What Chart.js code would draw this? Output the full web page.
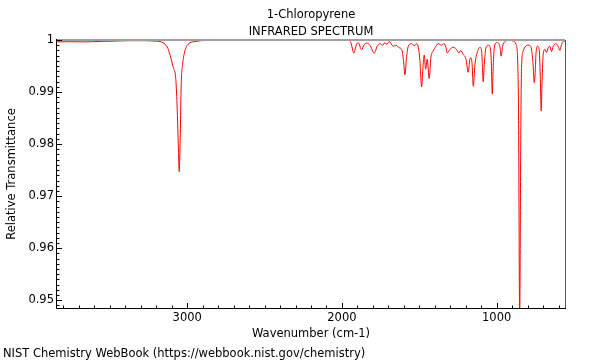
<!DOCTYPE html>
<html>
<head>
<meta charset="utf-8">
<title>1-Chloropyrene IR spectrum</title>
<script src="https://cdn.jsdelivr.net/npm/chart.js@4.4.0/dist/chart.umd.min.js"></script>
<style>
  html, body { margin: 0; padding: 0; background: #fff; }
  #wrap { width: 600px; height: 360px; }
</style>
</head>
<body>
<div id="wrap"><canvas id="irChart" width="600" height="360"></canvas></div>
<script>
// spectrum (cm-1, relative transmittance)
const wavenumbers = [
	3842, 3758, 3661, 3564, 3467, 3370, 3273, 3209, 3176, 3157, 3144, 3125, 3112, 3090, 3075, 3067,
	3058, 3052, 3045, 3039, 3030, 3015, 2994, 2950, 2885, 2594, 2271, 1954,
	1942, 1923, 1910, 1895, 1873, 1858, 1840, 1819, 1791, 1772, 1754, 1737, 1722, 1711, 1694, 1668,
	1651, 1630, 1614, 1602, 1593, 1583, 1571, 1550, 1538, 1528, 1517, 1506, 1496, 1485, 1475, 1468,
	1459, 1449, 1436, 1425, 1410, 1392, 1378, 1356, 1339, 1328, 1319, 1302, 1281, 1259, 1244, 1233,
	1216, 1198, 1184, 1173, 1166, 1158, 1151, 1140, 1129, 1108, 1097, 1092, 1087, 1079, 1069, 1054,
	1043, 1035, 1028, 1022, 1015, 1000, 985, 977, 971, 961, 946, 919, 893, 875, 864, 858,
	851, 844, 839, 828, 813, 796, 780, 770, 762, 757, 750, 746, 735, 725, 718, 712,
	706, 699, 688, 677, 667, 656, 645, 634, 617, 602, 591, 580, 565, 556
];
const transmittance = [
	0.99964, 0.99967, 0.99964, 0.99973, 0.99979, 0.99987, 0.99987, 0.9998, 0.9997, 0.9995, 0.9992, 0.9984, 0.9972, 0.9947, 0.9928, 0.9884,
	0.9800, 0.9747, 0.9819, 0.9915, 0.9953, 0.9979, 0.9992, 0.9997, 0.9999, 0.99997, 0.99997, 0.99997,
	0.9995, 0.9975, 0.9988, 0.9995, 0.9981, 0.9990, 0.9994, 0.9990, 0.9975, 0.9988, 0.9993, 0.9990, 0.9995, 0.9992, 0.9997, 0.9988,
	0.9990, 0.9985, 0.9982, 0.9961, 0.9933, 0.9965, 0.9988, 0.9993, 0.9990, 0.9990, 0.9993, 0.9986, 0.9961, 0.9910, 0.9953, 0.9971,
	0.9944, 0.9963, 0.9926, 0.9966, 0.9979, 0.9988, 0.9993, 0.9990, 0.9993, 0.9986, 0.9975, 0.9982, 0.9986, 0.9982, 0.9975, 0.9980,
	0.9972, 0.9963, 0.9938, 0.9963, 0.9966, 0.9951, 0.9911, 0.9953, 0.9972, 0.9986, 0.9979, 0.9951, 0.9920, 0.9957, 0.9985, 0.9990,
	0.9988, 0.9961, 0.9896, 0.9951, 0.9985, 0.9995, 0.9993, 0.9984, 0.9969, 0.9988, 0.9997, 1.0000, 0.9998, 0.9992, 0.9960, 0.9846,
	0.9460, 0.9807, 0.9947, 0.9979, 0.9988, 0.9990, 0.9988, 0.9972, 0.9942, 0.9918, 0.9942, 0.9972, 0.9988, 0.9982, 0.9932, 0.9864,
	0.9923, 0.9972, 0.9982, 0.9976, 0.9985, 0.9988, 0.9978, 0.9988, 0.9993, 0.9988, 0.9980, 0.9992, 0.9998, 0.9998
];

const xTickValues = [3000, 2000, 1000];
const yTickValues = [0.95, 0.96, 0.97, 0.98, 0.99, 1];
const yTickLabels = ['0.95', '0.96', '0.97', '0.98', '0.99', '1'];

const chartTitle = ['1-Chloropyrene', 'INFRARED SPECTRUM'];
const xTitle = 'Wavenumber (cm-1)';
const yTitle = 'Relative Transmittance';
const sourceNote = 'NIST Chemistry WebBook (https://webbook.nist.gov/chemistry)';

document.addEventListener('DOMContentLoaded', function() {

	Chart.defaults.font.family = '"DejaVu Sans", sans-serif';
	Chart.defaults.font.size = 11.5;
	Chart.defaults.color = '#000';

	const FONT = '11.5px "DejaVu Sans", sans-serif';

	// frame, inside tick marks and the texts around the plot
	const framePlugin = {
		id: 'frame',
		afterDraw(chart) {
			const ctx = chart.ctx;
			const a = chart.chartArea;
			const xs = chart.scales.x;
			const ys = chart.scales.y;

			ctx.save();
			ctx.lineCap = 'butt';

			// top and right border
			ctx.strokeStyle = '#a0a0a0';
			ctx.lineWidth = 2;
			ctx.beginPath();
			ctx.moveTo(a.left, a.top);
			ctx.lineTo(a.right, a.top);
			ctx.stroke();
			ctx.strokeStyle = '#555';
			ctx.lineWidth = 1;
			ctx.beginPath();
			ctx.moveTo(a.right + 0.5, a.top);
			ctx.lineTo(a.right + 0.5, a.bottom);
			ctx.stroke();

			// left and bottom axes
			ctx.strokeStyle = '#000';
			ctx.beginPath();
			ctx.moveTo(a.left - 0.5, a.top - 1);
			ctx.lineTo(a.left - 0.5, a.bottom + 0.5);
			ctx.lineTo(a.right + 1, a.bottom + 0.5);
			ctx.stroke();

			// x ticks, every 100 minor, every 1000 major
			ctx.beginPath();
			for (let v = 600; v <= 3800; v += 100) {
				const px = Math.round(xs.getPixelForValue(v)) + 0.5;
				const len = v % 1000 === 0 ? 5 : 2.5;
				ctx.moveTo(px, a.bottom);
				ctx.lineTo(px, a.bottom - len);
			}
			// y ticks, every 0.001 minor, every 0.01 major
			for (let i = 949; i <= 1000; i++) {
				const py = Math.round(ys.getPixelForValue(i / 1000)) + 0.5;
				const len = i % 10 === 0 ? 5 : 2.5;
				ctx.moveTo(a.left, py);
				ctx.lineTo(a.left + len, py);
			}
			ctx.stroke();

			// texts
			ctx.fillStyle = '#000';
			ctx.font = FONT;
			ctx.textBaseline = 'alphabetic';
			ctx.textAlign = 'center';
			const cx = (a.left + a.right) / 2;
			ctx.fillText(chartTitle[0], cx, 17.5);
			ctx.fillText(chartTitle[1], cx, 34.5);
			ctx.fillText(xTitle, cx, 336.5);

			ctx.textAlign = 'left';
			ctx.fillText(sourceNote, 3, 356.5);

			ctx.translate(14.5, (a.top + a.bottom) / 2);
			ctx.rotate(-Math.PI / 2);
			ctx.textAlign = 'center';
			ctx.fillText(yTitle, 0, 0);
			ctx.restore();
		}
	};

	const points = wavenumbers.map((w, i) => ({ x: w, y: transmittance[i] }));

	new Chart(document.getElementById('irChart'), {
		type: 'line',
		data: {
			datasets: [{
				data: points,
				borderColor: '#ff0000',
				borderWidth: 1,
				pointRadius: 0,
				fill: false,
				cubicInterpolationMode: 'monotone'
			}]
		},
		options: {
			responsive: false,
			animation: false,
			events: [],
			layout: { padding: { left: 0, top: 40, right: 35, bottom: 0 } },
			plugins: {
				legend: { display: false },
				tooltip: { enabled: false },
				title: { display: false }
			},
			scales: {
				x: {
					type: 'linear',
					reverse: true,
					min: 558,
					max: 3842,
					grid: { display: false, drawTicks: false },
					border: { display: false },
					ticks: {
						padding: 3,
						maxRotation: 0,
						autoSkip: false,
						callback: v => String(v)
					},
					afterBuildTicks: scale => {
						scale.ticks = xTickValues.map(v => ({ value: v }));
					},
					afterFit: scale => { scale.height = 52; }
				},
				y: {
					type: 'linear',
					min: 0.9485,
					max: 1.0,
					grid: { display: false, drawTicks: false },
					border: { display: false },
					ticks: {
						padding: 3,
						autoSkip: false,
						callback: v => {
							const idx = yTickValues.indexOf(v);
							return idx >= 0 ? yTickLabels[idx] : '';
						}
					},
					afterBuildTicks: scale => {
						scale.ticks = yTickValues.map(v => ({ value: v }));
					},
					afterFit: scale => { scale.width = 57; }
				}
			}
		},
		plugins: [framePlugin]
	});
});
</script>
</body>
</html>
